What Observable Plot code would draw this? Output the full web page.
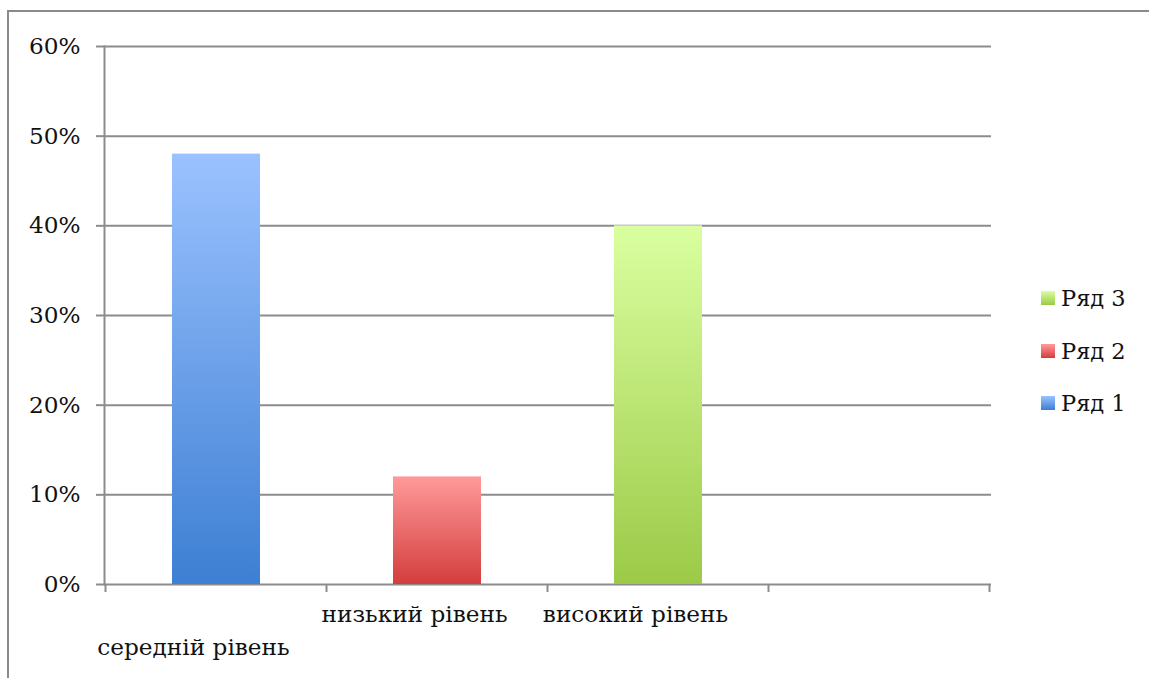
<!DOCTYPE html>
<html><head><meta charset="utf-8">
<script src="https://cdn.jsdelivr.net/npm/d3@7"></script>
<script src="https://cdn.jsdelivr.net/npm/@observablehq/plot@0.6"></script>
<style>
body{margin:0;background:#fff;overflow:hidden;width:1149px;height:678px;position:relative;font-family:"DejaVu Serif","Liberation Serif",serif;}
#frame{position:absolute;left:7px;top:10px;width:1300px;height:800px;border:2px solid #8a8a8a;}
#chart{position:absolute;left:0;top:0;}
#legend{position:absolute;left:1041px;top:272px;}
.item{display:flex;align-items:center;height:52.5px;font-size:22.5px;color:#111;}
.sw{width:14px;height:14px;margin-right:6px;}
</style></head><body>
<div id="frame"></div><div id="chart"></div><div id="legend"></div>
<script>
const categories = ["середній рівень", "низький рівень", "високий рівень", ""];
const seriesNames = ["Ряд 1", "Ряд 2", "Ряд 3"];
const values = [0.48, 0.12, 0.40];
const yTicks = [0, 0.1, 0.2, 0.3, 0.4, 0.5, 0.6];
const gradTop = ["#9bc2ff", "#ff9a9a", "#daffa0"];
const gradBottom = ["#3d7fd3", "#d43d3d", "#9cca47"];

const data = values.map((v, i) => ({category: categories[i], series: i, name: seriesNames[i], value: v}));
const gray = "#8c8c8c";
const fs = 23.2;

const defsMark = () => {
  const defs = d3.create("svg:defs");
  gradTop.forEach((c, i) => {
    const g = defs.append("linearGradient").attr("id", "grad-" + i)
      .attr("x1", 0).attr("y1", 0).attr("x2", 0).attr("y2", 1);
    g.append("stop").attr("offset", "0%").attr("stop-color", c);
    g.append("stop").attr("offset", "100%").attr("stop-color", gradBottom[i]);
  });
  return defs.node();
};

// first label is staggered down (as in the original), the rest stay on the upper row
const lowerLabels = categories.filter((d, i) => d && i === 0);
const upperLabels = categories.filter((d, i) => d && i > 0);

const plot = Plot.plot({
  width: 1149,
  height: 678,
  marginLeft: 104,
  marginRight: 158,
  marginTop: 46,
  marginBottom: 94,
  style: {fontFamily: "'DejaVu Serif', 'Liberation Serif', serif", fontSize: fs + "px", color: "#111", background: "transparent"},
  x: {domain: categories, paddingInner: 0.6, paddingOuter: 0.3, axis: null},
  y: {domain: [0, 0.6], axis: null},
  color: {type: "identity"},
  marks: [
    defsMark,
    Plot.ruleY(yTicks, {y: d => d, stroke: gray, strokeWidth: 2}),
    Plot.axisY({ticks: yTicks, tickFormat: d3.format(".0%"), tickSize: 8, tickPadding: 16, stroke: gray, strokeWidth: 2, fill: "#111", fontSize: fs, label: null}),
    Plot.frame({anchor: "left", stroke: gray, strokeWidth: 2}),
    Plot.barY(data, {x: "category", y: "value", fill: d => `url(#grad-${d.series})`}),
    Plot.text(lowerLabels, {x: d => d, text: d => d, frameAnchor: "bottom", dy: 70, dx: -23, fontSize: fs, fill: "#111"}),
    Plot.text(upperLabels, {x: d => d, text: d => d, frameAnchor: "bottom", dy: 37, dx: -23, fontSize: fs, fill: "#111"})
  ]
});

// category boundary tick marks on the x axis, positioned from the band scale
const xs = plot.scale("x");
const ys = plot.scale("y");
const half = (xs.step - xs.bandwidth) / 2;
const bounds = categories.map(c => xs.apply(c) - half);
bounds.push(xs.apply(categories[categories.length - 1]) + xs.bandwidth + half);
const y0 = ys.apply(0);
const g = d3.select(plot).append("g").attr("stroke", gray).attr("stroke-width", 2);
bounds.forEach(b => g.append("line").attr("x1", b).attr("x2", b).attr("y1", y0).attr("y2", y0 + 8));

document.getElementById("chart").appendChild(plot);

const legend = d3.select("#legend");
seriesNames.map((n, i) => i).reverse().forEach(i => {
  const it = legend.append("div").attr("class", "item");
  it.append("div").attr("class", "sw").style("background", `linear-gradient(${gradTop[i]}, ${gradBottom[i]})`);
  it.append("span").text(seriesNames[i]);
});
</script>
</body></html>
